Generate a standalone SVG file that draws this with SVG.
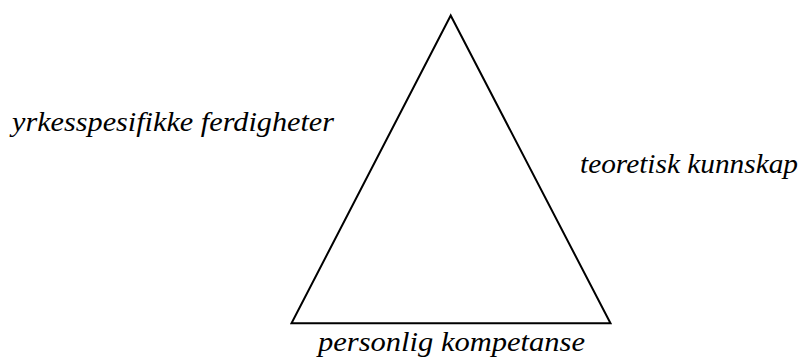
<svg xmlns="http://www.w3.org/2000/svg" width="808" height="362" viewBox="0 0 808 362">
<style>
text{font-family:"Liberation Serif","Times New Roman",serif;font-style:italic;font-size:28px;fill:#000}
.tri{fill:none;stroke:#000;stroke-width:2;stroke-linejoin:miter}
</style>
<rect width="808" height="362" fill="#fff"/>
<g id="triangle">
<polygon class="tri" points="450.7,15.5 291.5,323.3 610.5,323.3"/>
</g>
<g id="connectors"></g>
<g id="label-left">
<text x="12" y="131" textLength="322" lengthAdjust="spacingAndGlyphs">yrkesspesifikke ferdigheter</text>
</g>
<g id="label-right">
<text x="580" y="173" textLength="218" lengthAdjust="spacingAndGlyphs">teoretisk kunnskap</text>
</g>
<g id="label-bottom">
<text x="318" y="351" textLength="267" lengthAdjust="spacingAndGlyphs">personlig kompetanse</text>
</g>
</svg>
